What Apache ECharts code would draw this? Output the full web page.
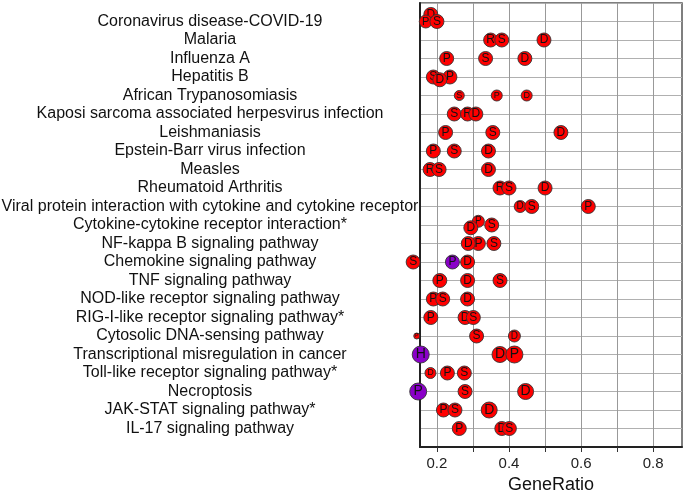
<!DOCTYPE html>
<html>
<head>
<meta charset="utf-8">
<script src="https://cdn.jsdelivr.net/npm/echarts@6/dist/echarts.min.js"></script>
<style>
  html, body { margin: 0; padding: 0; background: #fff; }
  #main { width: 685px; height: 494px; }
</style>
</head>
<body>
<div id="main"></div>
<script>
// pathway names, top to bottom
var categories = [
  'Coronavirus disease-COVID-19', 'Malaria', 'Influenza A', 'Hepatitis B',
  'African Trypanosomiasis', 'Kaposi sarcoma associated herpesvirus infection',
  'Leishmaniasis', 'Epstein-Barr virus infection', 'Measles', 'Rheumatoid Arthritis',
  'Viral protein interaction with cytokine and cytokine receptor',
  'Cytokine-cytokine receptor interaction*', 'NF-kappa B signaling pathway',
  'Chemokine signaling pathway', 'TNF signaling pathway',
  'NOD-like receptor signaling pathway', 'RIG-I-like receptor signaling pathway*',
  'Cytosolic DNA-sensing pathway', 'Transcriptional misregulation in cancer',
  'Toll-like receptor signaling pathway*', 'Necroptosis',
  'JAK-STAT signaling pathway*', 'IL-17 signaling pathway'
];

// three dots per pathway (drawing order: later on top)
var letters = [
  ['D','P','S'], ['D','R','S'], ['P','S','D'], ['S','P','D'],
  ['S','P','D'], ['S','R','D'], ['P','S','D'], ['P','S','D'],
  ['R','S','D'], ['R','S','D'], ['D','S','P'], ['P','D','S'],
  ['P','D','S'], ['S','P','D'], ['P','D','S'], ['P','S','D'],
  ['P','D','S'], ['P','S','D'], ['H','D','P'], ['D','P','S'],
  ['P','S','D'], ['P','S','D'], ['P','D','S']
];
var geneRatio = [
  [0.183,0.169,0.200], [0.497,0.349,0.380], [0.227,0.335,0.444], [0.190,0.236,0.208],
  [0.262,0.366,0.449], [0.248,0.285,0.308], [0.224,0.355,0.544], [0.190,0.248,0.343],
  [0.181,0.206,0.343], [0.375,0.400,0.500], [0.431,0.463,0.620], [0.315,0.294,0.352],
  [0.315,0.287,0.358], [0.134,0.243,0.285], [0.208,0.285,0.375], [0.190,0.216,0.285],
  [0.183,0.278,0.301], [0.144,0.310,0.415], [0.155,0.375,0.415], [0.182,0.229,0.276],
  [0.148,0.278,0.446], [0.218,0.250,0.345], [0.262,0.380,0.401]
];
var geneCount = [
  [10,9,10], [10,10,10], [10,10,10], [10,10,10],
  [6,7,7], [10,10,10], [10,10,10], [10,10,10],
  [10,10,10], [10,10,10], [8,10,10], [8,10,10],
  [10,10,10], [10,10,10], [10,10,10], [10,10,10],
  [10,10,10], [2,10,8], [13,12,13], [7,10,10],
  [13,10,12], [10,10,12], [10,10,10]
];
// small vertical shifts inside a row (in row units)
var rowShift = [
  [-0.38,0,0], [0,0,0], [0,0,0], [0,0,0.15],
  [0,0,0], [0,0,0], [0,0,0], [0,0,0],
  [0,0,0], [0,0,0], [0,0,0], [-0.2,0.15,0],
  [0,0,0], [0,0,0], [0,0,0], [0,0,0],
  [0,0,0], [0,0,0], [0,0,0], [0,0,0],
  [0,0,0], [0,0,0], [0,0,0]
];
// 1 = purple group, 0 = red
var dotGroup = [
  [0,0,0], [0,0,0], [0,0,0], [0,0,0], [0,0,0], [0,0,0], [0,0,0], [0,0,0],
  [0,0,0], [0,0,0], [0,0,0], [0,0,0], [0,0,0], [0,1,0], [0,0,0], [0,0,0],
  [0,0,0], [0,0,0], [1,0,0], [0,0,0], [1,0,0], [0,0,0], [0,0,0]
];
var xTicks = [0.2, 0.3, 0.4, 0.5, 0.6, 0.7, 0.8];
var xLabels = [0.2, 0.4, 0.6, 0.8];

var font = "'Liberation Sans', Arial, sans-serif";
function dotSize(n) { return 4 + n; }

// one small series per dot so a covering dot also hides the letter beneath
var series = [];
categories.forEach(function(name, i){
  for (var k = 0; k < 3; k++) {
    var s = dotSize(geneCount[i][k]);
    series.push({
      type: 'scatter',
      clip: false,
      z: 2 + series.length * 0.01,
      symbolSize: s,
      data: [[geneRatio[i][k], i + 1 + rowShift[i][k], geneCount[i][k]]],
      itemStyle: {
        color: dotGroup[i][k] ? '#8a00c8' : '#ff0000',
        borderColor: '#333',
        borderWidth: 0.9,
        opacity: 1
      },
      label: {
        show: true,
        position: 'inside',
        color: '#111',
        fontFamily: font,
        fontSize: Math.round(s * 0.85),
        formatter: letters[i][k]
      },
      emphasis: { disabled: true }
    });
  }
});

var chart = echarts.init(document.getElementById('main'));
chart.setOption({
  backgroundColor: '#fff',
  animation: false,
  grid: {
    left: 420, right: 3, top: 3, bottom: 47,
    outerBoundsMode: 'none',
    show: true, borderColor: '#555', borderWidth: 1.5
  },
  xAxis: {
    type: 'value',
    min: 0.153, max: 0.88,
    name: 'GeneRatio',
    nameLocation: 'middle',
    nameGap: 27,
    nameTextStyle: { fontFamily: font, fontSize: 18, color: '#111' },
    axisLine: { show: true, onZero: false, lineStyle: { color: '#222', width: 2 } },
    axisTick: { show: true, length: 5, customValues: xTicks, lineStyle: { color: '#333' } },
    axisLabel: {
      customValues: xLabels, margin: 9,
      fontFamily: font, fontSize: 15, color: '#222',
      formatter: function(v){ return v.toFixed(1); }
    },
    splitLine: { show: true, lineStyle: { color: '#999', width: 1 } }
  },
  yAxis: {
    type: 'value',
    min: 0, max: 24, interval: 1,
    inverse: true,
    axisLine: { show: true, onZero: false, lineStyle: { color: '#222', width: 2 } },
    axisTick: { show: false },
    axisLabel: {
      margin: 210, align: 'center',
      fontFamily: font, fontSize: 16, color: '#111',
      formatter: function(v){ return categories[v - 1] || ''; }
    },
    splitLine: { show: true, lineStyle: { color: '#b0b0b0', width: 1 } }
  },
  series: series
});
</script>
</body>
</html>
